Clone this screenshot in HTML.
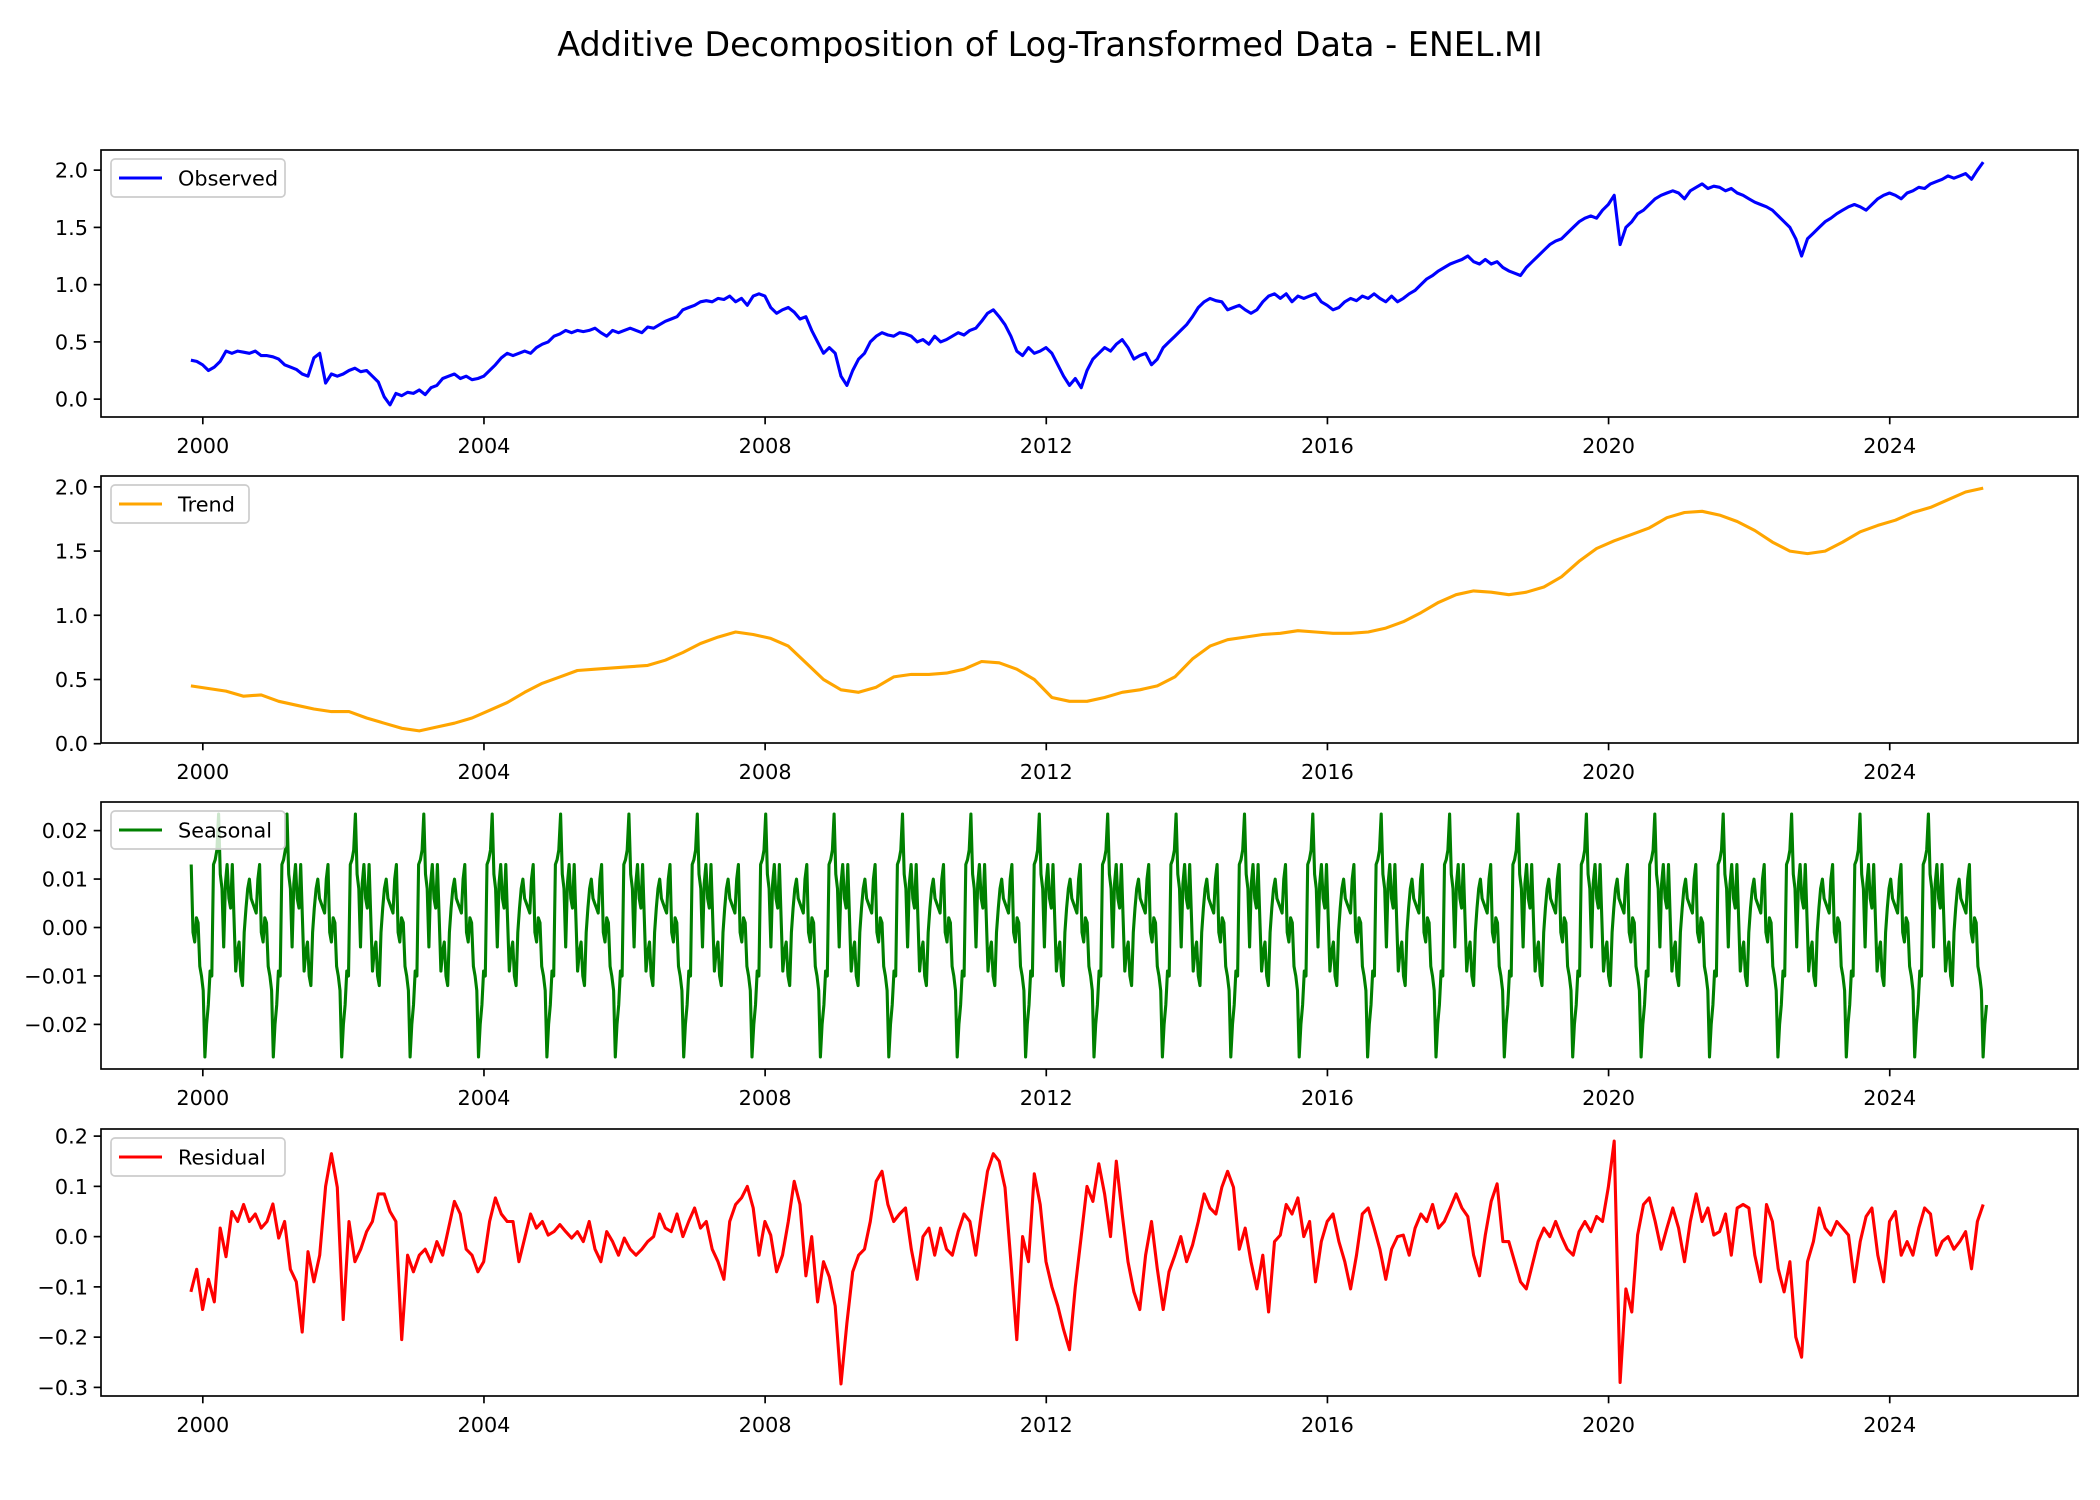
<!DOCTYPE html>
<html><head><meta charset="utf-8"><title>Additive Decomposition - ENEL.MI</title>
<style>html,body{margin:0;padding:0;background:#fff}svg{display:block}</style></head>
<body>
<svg id="fig" xmlns="http://www.w3.org/2000/svg" width="2100" height="1500" viewBox="0 0 2100 1500" font-family="'DejaVu Sans','Liberation Sans',sans-serif">
<rect width="2100" height="1500" fill="#fff"/>
<text x="1050" y="56" text-anchor="middle" font-size="33.4" fill="#000">Additive Decomposition of Log-Transformed Data - ENEL.MI</text>
</svg>
<script>
// ---- data ----
const startYear = 1999.83;           // first observation (Nov 1999)
const observed = [
.34,.33,
.30,.25,.28,.33,.42,.40,.42,.41,.40,.42,.38,.38,
.37,.35,.30,.28,.26,.22,.20,.36,.40,.14,.22,.20,
.22,.25,.27,.24,.25,.20,.15,.02,-.05,.05,.03,.06,
.05,.08,.04,.10,.12,.18,.20,.22,.18,.20,.17,.18,
.20,.25,.30,.36,.40,.38,.40,.42,.40,.45,.48,.50,
.55,.57,.60,.58,.60,.59,.60,.62,.58,.55,.60,.58,
.60,.62,.60,.58,.63,.62,.65,.68,.70,.72,.78,.80,
.82,.85,.86,.85,.88,.87,.90,.85,.88,.82,.90,.92,
.90,.80,.75,.78,.80,.76,.70,.72,.60,.50,.40,.45,
.40,.20,.12,.25,.35,.40,.50,.55,.58,.56,.55,.58,
.57,.55,.50,.52,.48,.55,.50,.52,.55,.58,.56,.60,
.62,.68,.75,.78,.72,.65,.55,.42,.38,.45,.40,.42,
.45,.40,.30,.20,.12,.18,.10,.25,.35,.40,.45,.42,
.48,.52,.45,.35,.38,.40,.30,.35,.45,.50,.55,.60,
.65,.72,.80,.85,.88,.86,.85,.78,.80,.82,.78,.75,
.78,.85,.90,.92,.88,.92,.85,.90,.88,.90,.92,.85,
.82,.78,.80,.85,.88,.86,.90,.88,.92,.88,.85,.90,
.85,.88,.92,.95,1.0,1.05,1.08,1.12,1.15,1.18,1.20,1.22,
1.25,1.20,1.18,1.22,1.18,1.20,1.15,1.12,1.10,1.08,1.15,1.20,
1.25,1.30,1.35,1.38,1.40,1.45,1.50,1.55,1.58,1.60,1.58,1.65,
1.70,1.78,1.35,1.50,1.55,1.62,1.65,1.70,1.75,1.78,1.80,1.82,
1.80,1.75,1.82,1.85,1.88,1.84,1.86,1.85,1.82,1.84,1.80,1.78,
1.75,1.72,1.70,1.68,1.65,1.60,1.55,1.50,1.40,1.25,1.40,1.45,
1.50,1.55,1.58,1.62,1.65,1.68,1.70,1.68,1.65,1.70,1.75,1.78,
1.80,1.78,1.75,1.80,1.82,1.85,1.84,1.88,1.90,1.92,1.95,1.93,
1.95,1.97,1.92,2.00,2.07];
const trend = [.45,
.43,.41,.37,.38, .33,.30,.27,.25, .25,.20,.16,.12, .10,.13,.16,.20, .26,.32,.40,.47,
.52,.57,.58,.59, .60,.61,.65,.71, .78,.83,.87,.85, .82,.76,.63,.50, .42,.40,.44,.52,
.54,.54,.55,.58, .64,.63,.58,.50, .36,.33,.33,.36, .40,.42,.45,.52, .66,.76,.81,.83,
.85,.86,.88,.87, .86,.86,.87,.90, .95,1.02,1.10,1.16, 1.19,1.18,1.16,1.18, 1.22,1.30,1.42,1.52,
1.58,1.63,1.68,1.76, 1.80,1.81,1.78,1.73, 1.66,1.57,1.50,1.48, 1.50,1.57,1.65,1.70, 1.74,1.80,1.84,1.90,
1.96,1.99];
const seasonalPattern = [-0.0267,-0.020,-0.016,-0.009,-0.010,0.013,0.014,0.016,0.0234,0.011,
0.008,-0.004,0.009,0.013,0.006,0.004,0.013,0.002,-0.009,-0.005,
-0.003,-0.010,-0.012,-0.001,0.004,0.008,0.010,0.006,0.005,0.004,
0.003,0.010,0.013,-0.001,-0.003,0.002,0.001,-0.008,-0.010,-0.013,-0.018];
const seasonalPeriodYears = 0.973;
const seasonalFirstTrough = 2000.03;
const seasonalEnd = 2025.4;
const residual = [-0.11,-0.065,
-0.145,-0.085,-0.13,0.017,-0.04,0.05,0.03,0.064,0.03,0.045,0.017,0.03,
0.065,-0.003,0.03,-0.065,-0.09,-0.19,-0.03,-0.09,-0.037,0.1,0.165,0.098,
-0.165,0.03,-0.05,-0.025,0.01,0.03,0.085,0.085,0.05,0.03,-0.205,-0.037,
-0.07,-0.037,-0.025,-0.05,-0.01,-0.037,0.017,0.07,0.045,-0.025,-0.037,-0.07,
-0.05,0.03,0.077,0.045,0.03,0.03,-0.05,-0.003,0.045,0.017,0.03,0.003,
0.01,0.024,0.01,-0.003,0.01,-0.01,0.03,-0.025,-0.05,0.01,-0.01,-0.037,
-0.003,-0.025,-0.037,-0.025,-0.01,0,0.045,0.017,0.01,0.045,0,0.03,
0.057,0.017,0.03,-0.025,-0.05,-0.085,0.03,0.064,0.077,0.1,0.057,-0.037,
0.03,0.003,-0.07,-0.037,0.03,0.11,0.064,-0.078,0,-0.13,-0.05,-0.08,
-0.138,-0.293,-0.172,-0.07,-0.037,-0.025,0.03,0.11,0.13,0.064,0.03,0.045,
0.057,-0.025,-0.085,0,0.017,-0.037,0.017,-0.025,-0.037,0.01,0.045,0.03,
-0.037,0.05,0.13,0.165,0.15,0.098,-0.05,-0.205,0,-0.05,0.125,0.064,
-0.05,-0.1,-0.138,-0.185,-0.225,-0.1,0,0.1,0.07,0.145,0.085,0,
0.15,0.045,-0.05,-0.11,-0.145,-0.037,0.03,-0.064,-0.145,-0.07,-0.037,0,
-0.05,-0.017,0.03,0.085,0.057,0.045,0.098,0.13,0.098,-0.025,0.017,-0.05,
-0.104,-0.037,-0.15,-0.01,0.003,0.064,0.045,0.077,0,0.03,-0.09,-0.01,
0.03,0.045,-0.01,-0.05,-0.104,-0.037,0.045,0.057,0.017,-0.025,-0.085,-0.025,
0,0.003,-0.037,0.017,0.045,0.03,0.064,0.017,0.03,0.057,0.085,0.057,
0.04,-0.037,-0.078,0.003,0.07,0.105,-0.01,-0.01,-0.05,-0.09,-0.104,-0.057,
-0.01,0.017,0,0.03,0,-0.025,-0.037,0.01,0.03,0.01,0.04,0.03,
0.098,0.19,-0.29,-0.104,-0.15,0.003,0.064,0.077,0.03,-0.025,0.017,0.057,
0.017,-0.05,0.03,0.085,0.03,0.057,0.003,0.01,0.045,-0.037,0.057,0.064,
0.057,-0.037,-0.09,0.064,0.03,-0.064,-0.11,-0.05,-0.2,-0.24,-0.05,-0.01,
0.057,0.017,0.003,0.03,0.017,0.003,-0.09,-0.01,0.04,0.057,-0.037,-0.09,
0.03,0.05,-0.037,-0.01,-0.037,0.017,0.057,0.045,-0.037,-0.01,0,-0.025,
-0.01,0.01,-0.064,0.03,0.064];
const xTickYears = [2000,2004,2008,2012,2016,2020,2024];
const obsTicks = [0.0,0.5,1.0,1.5,2.0];
const trendTicks = [0.0,0.5,1.0,1.5,2.0];
const seasTicks = [-0.02,-0.01,0.00,0.01,0.02];
const residTicks = [-0.3,-0.2,-0.1,0.0,0.1,0.2];

// ---- build ----
const NS = 'http://www.w3.org/2000/svg';
const svg = document.getElementById('fig');
function mk(tag, attrs, parent){const e=document.createElementNS(NS,tag);for(const k in attrs)e.setAttribute(k,attrs[k]);(parent||svg).appendChild(e);return e;}
function monthly(arr, step){return arr.map((v,i)=>[startYear+i*step,v]);}
const obsPts = monthly(observed,1/12);
const trendPts = monthly(trend,0.25);
const residPts = monthly(residual,1/12);
const seasPts = [];
{const n=seasonalPattern.length-1;const dt=seasonalPeriodYears/n;
 let k=Math.floor((startYear-seasonalFirstTrough)/dt);
 for(;;k++){const t=seasonalFirstTrough+k*dt;if(t<startYear-1e-9)continue;if(t>seasonalEnd)break;
   const idx=((k%n)+n)%n;seasPts.push([t,seasonalPattern[idx]]);}}

const xMin0=startYear, xMax0=seasonalEnd, xm=(xMax0-xMin0)*0.05;
const X0=101,X1=2078;
const xs=t=>X0+(t-(xMin0-xm))/((xMax0+xm)-(xMin0-xm))*(X1-X0);
const fmtMinus=s=>s.replace('-','\u2212');

function panel(name, pts, color, label, ticks, dec, top){
  const H=267, bot=top+H;
  const vals=pts.map(p=>p[1]);let lo=Math.min(...vals),hi=Math.max(...vals);const m=(hi-lo)*0.05;lo-=m;hi+=m;
  const ys=v=>bot-(v-lo)/(hi-lo)*H;
  const g=mk('g',{});
  
  
  const clipId='clip-'+name;
  const cp=mk('clipPath',{id:clipId},g);mk('rect',{x:X0,y:top,width:X1-X0,height:H},cp);
  const d=pts.map((p,i)=>(i?'L':'M')+xs(p[0]).toFixed(1)+','+ys(p[1]).toFixed(1)).join('');
  const line=mk('path',{d:d,fill:'none',stroke:color,'stroke-width':3.1,'stroke-linejoin':'round','clip-path':'url(#'+clipId+')'},g);
  
  
  const frame=mk('rect',{x:X0,y:top,width:X1-X0,height:H,fill:'none',stroke:'#000','stroke-width':1.67},g);
  
  
  ticks.forEach(v=>{const y=ys(v);
    mk('line',{x1:X0,x2:X0-7.3,y1:y,y2:y,stroke:'#000','stroke-width':1.67},g);
    const t=mk('text',{x:X0-13,y:y+7.5,'text-anchor':'end','font-size':20.8,fill:'#000'},g);
    t.textContent=fmtMinus(v.toFixed(dec));
    
    
  });
  xTickYears.forEach(yr=>{const x=xs(yr);
    mk('line',{x1:x,x2:x,y1:bot,y2:bot+7.3,stroke:'#000','stroke-width':1.67},g);
    const t=mk('text',{x:x,y:bot+36,'text-anchor':'middle','font-size':20.8,fill:'#000'},g);
    t.textContent=String(yr);
    
    
  });
  const lg=mk('g',{},g);
  
  
  const w=label.length*12.0+78;
  mk('rect',{x:111,y:top+9,width:w,height:38,rx:4,fill:'#fff','fill-opacity':0.8,stroke:'#ccc','stroke-width':1.67},lg);
  mk('line',{x1:119,x2:162,y1:top+28,y2:top+28,stroke:color,'stroke-width':3.1},lg);
  const lt=mk('text',{x:178,y:top+35.5,'font-size':20.8,fill:'#000'},lg);
  lt.textContent=label;
  
  
}
panel('observed',obsPts,'#0000ff','Observed',obsTicks,1,150);
panel('trend',trendPts,'#ffa500','Trend',trendTicks,1,476);
panel('seasonal',seasPts,'#008000','Seasonal',seasTicks,2,802);
panel('residual',residPts,'#ff0000','Residual',residTicks,1,1129);
</script>
</body></html>
